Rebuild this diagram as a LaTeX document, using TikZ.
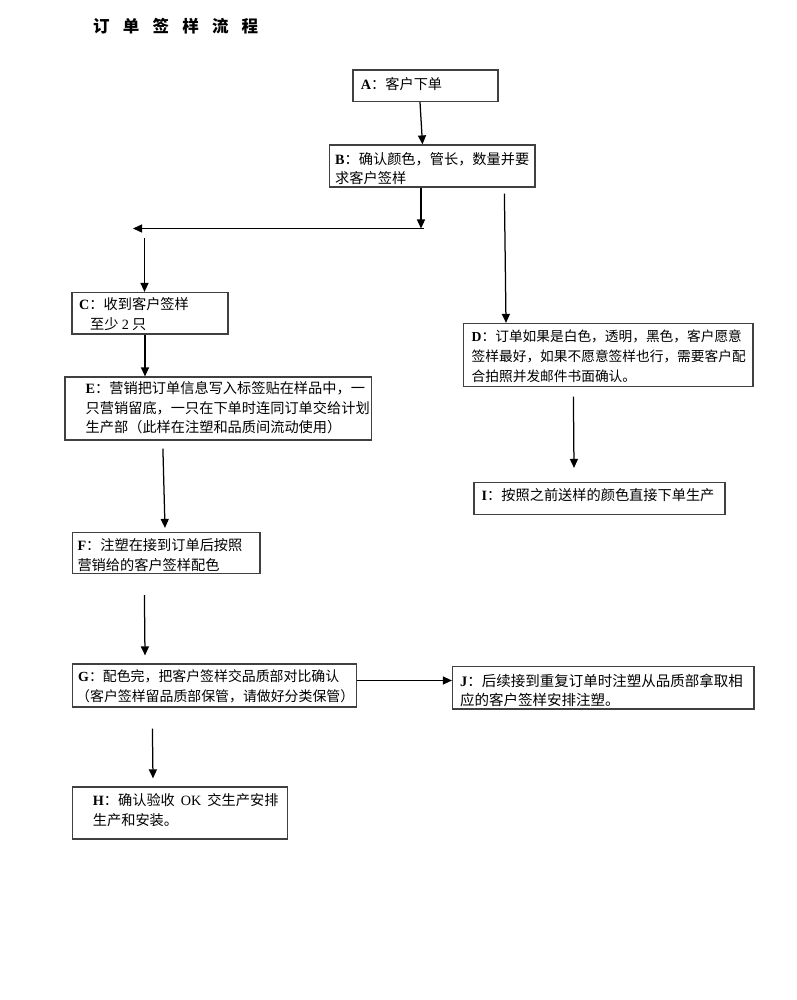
\documentclass[tikz,border=0pt]{standalone}
\usepackage{fontspec}
\setmainfont{Liberation Serif}
\newfontfamily\cjk{Noto Sans CJK SC}
\usetikzlibrary{arrows.meta,calc}
\begin{document}
\begin{tikzpicture}[x=1pt,y=1pt,
  box/.style={draw=black!75, line width=1.2pt, inner sep=0pt},
  txt/.style={anchor=north west, inner sep=0pt, align=left, font=\fontsize{14.2}{19.5}\selectfont\cjk},
  arr/.style={line width=1.25pt, -{Triangle[length=9pt,width=8pt]}},
  lbl/.style={font=\rmfamily\bfseries}]
\useasboundingbox[fill=white] (0,0) rectangle (796,-1000);

% title
\node[anchor=west, inner sep=0pt, font=\fontsize{16.5}{20}\selectfont\cjk\bfseries] (title) at (93,-26)
  {订\hspace{13.2pt}单\hspace{13.2pt}签\hspace{13.2pt}样\hspace{13.2pt}流\hspace{13.2pt}程};

% boxes
\node[box, minimum width=145pt, minimum height=31.5pt] (A) at (425.5,-85.75) {};
\node[box, minimum width=205.5pt, minimum height=42pt] (B) at (432.25,-166) {};
\node[box, minimum width=156pt, minimum height=41.5pt] (C) at (150,-313.25) {};
\node[box, minimum width=306.5pt, minimum height=63pt] (E) at (218.25,-408.5) {};
\node[box, minimum width=289.5pt, minimum height=63pt] (D) at (608.25,-355) {};
\node[box, minimum width=251pt, minimum height=32pt] (I) at (599.5,-498.5) {};
\node[box, minimum width=187.5pt, minimum height=41pt] (F) at (166.25,-553) {};
\node[box, minimum width=284pt, minimum height=43pt] (G) at (214.5,-685.5) {};
\node[box, minimum width=301.5pt, minimum height=42.5pt] (J) at (603.25,-687.75) {};
\node[box, minimum width=215pt, minimum height=52pt] (H) at (180,-813) {};

% texts
\node[txt] (At) at (360.7,-77.1) {{\rmfamily\bfseries A}：客户下单};
\node[txt] (Bt) at (335,-152) {{\rmfamily\bfseries B}：确认颜色，管长，数量并要\\求客户签样};
\node[txt] (Ct) at (79,-297.6) {{\rmfamily\bfseries C}：收到客户签样\\\hspace*{11pt}至少 {\rmfamily 2} 只};
\node[txt] (Et) at (85.5,-381.6) {{\rmfamily\bfseries E}：营销把订单信息写入标签贴在样品中，一\\只营销留底，一只在下单时连同订单交给计划\\生产部（此样在注塑和品质间流动使用）};
\node[txt, font=\fontsize{13.7}{20}\selectfont\cjk] (Dt) at (471.5,-329.8) {{\rmfamily\bfseries D}：订单如果是白色，透明，黑色，客户愿意\\签样最好，如果不愿意签样也行，需要客户配\\合拍照并发邮件书面确认。};
\node[txt] (It) at (481.5,-488) {{\rmfamily\bfseries I}：按照之前送样的颜色直接下单生产};
\node[txt] (Ft) at (77.3,-538.6) {{\rmfamily\bfseries F}：注塑在接到订单后按照\\营销给的客户签样配色};
\node[txt, font=\fontsize{13.9}{20.5}\selectfont\cjk] (Gt) at (78,-669.1) {{\rmfamily\bfseries G}：配色完，把客户签样交品质部对比确认\\\hspace*{-2pt}（客户签样留品质部保管，请做好分类保管）};
\node[txt, font=\fontsize{14.5}{19}\selectfont\cjk] (Jt) at (460,-673.6) {{\rmfamily\bfseries J}：后续接到重复订单时注塑从品质部拿取相\\应的客户签样安排注塑。};
\node[txt, font=\fontsize{14.2}{20}\selectfont\cjk] (Ht) at (92.7,-793.6) {{\rmfamily\bfseries H}：确认验收\hspace{6pt}{\rmfamily OK}\hspace{6pt}交生产安排\\生产和安装。};

% connectors
\coordinate (k1) at (421,-228.5);
\coordinate (k2) at (133,-228.5);
\coordinate (k3) at (144.5,-238);
\draw[arr] ([xshift=-5.5pt]A.south) -- ([xshift=-9.75pt]B.north);
\draw[arr] ([xshift=-11.25pt]B.south) -- (k1);
\draw[arr] ([xshift=3pt]k1) -- (k2);
\draw[arr] (k3) -- ([xshift=-5.5pt]C.north);
\draw[arr] ([shift={(175.5pt,-6pt)}]B.south west) -- ([xshift=-102.25pt]D.north);
\draw[arr] ([xshift=-5pt]C.south) -- ([xshift=-73.25pt]E.north);
\draw[arr] ([shift={(98.5pt,-8pt)}]E.south west) -- ([xshift=-1.25pt,yshift=4pt]F.north);
\draw[arr] ([shift={(72.5pt,-21pt)}]F.south west) -- ([xshift=-69.5pt,yshift=8pt]G.north);
\draw[arr] ([shift={(110.5pt,-9.5pt)}]D.south west) -- ([xshift=-25.5pt,yshift=14pt]I.north);
\draw[arr] ([yshift=5pt]G.east) -- ([yshift=5pt]G.east -| J.west);
\draw[arr] ([shift={(80.5pt,-21pt)}]G.south west) -- ([xshift=-27pt,yshift=8pt]H.north);
\end{tikzpicture}
\end{document}
